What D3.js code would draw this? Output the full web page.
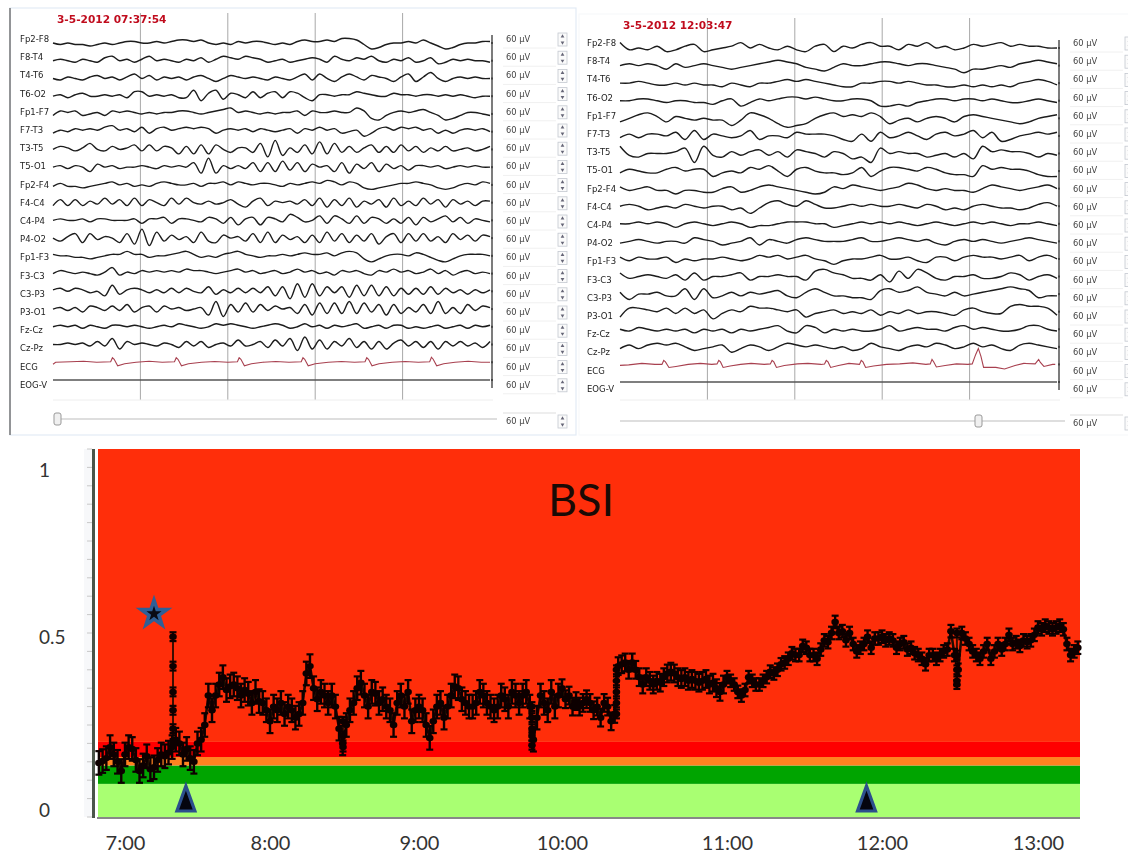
<!DOCTYPE html>
<html><head><meta charset="utf-8">
<script src="https://cdn.jsdelivr.net/npm/d3@7"></script>
<style>html,body{margin:0;padding:0;background:#fff}svg{display:block}</style>
</head><body><svg id="c" width="1128" height="854"></svg>
<script>
const channels=["Fp2-F8","F8-T4","T4-T6","T6-O2","Fp1-F7","F7-T3","T3-T5","T5-O1","Fp2-F4","F4-C4","C4-P4","P4-O2","Fp1-F3","F3-C3","C3-P3","P3-O1","Fz-Cz","Cz-Pz","ECG","EOG-V"];
const gainLabel="60 µV";
const titleLeft="3-5-2012 07:37:54";
const titleRight="3-5-2012 12:03:47";

const eegLeft=[
[0,-1,0,-1,-1,-2,-1,0,-1,0,1,1,0,0,1,0,1,2,2,1,2,0,-1,0,-1,1,0,1,1,0,-1,0,-1,1,2,1,1,2,1,3,3,2,-1,-4,-3,-1,0,0,1,0,2,0,-2,-4,-3,-1,0,0,1,1],
[0,1,0,-1,1,0,-1,2,3,0,1,-1,1,3,0,1,0,-1,1,0,2,-1,1,3,2,1,3,2,1,-1,0,1,-1,0,1,2,1,-1,3,1,0,2,1,3,0,-1,1,0,2,-1,0,2,-2,-1,1,0,1,0,0,-1],
[0,-1,1,0,-1,1,2,0,1,-1,1,3,0,2,-1,1,0,1,-1,1,2,0,-2,0,2,1,0,1,0,-1,1,0,-1,1,3,-1,3,0,-2,1,3,1,-1,2,1,0,-2,1,3,-2,1,4,0,-2,0,1,0,1,0,0],
[0,1,-1,1,2,0,0,1,0,1,-1,3,3,0,1,0,1,-1,-1,4,-3,2,4,-2,2,1,-1,3,-1,2,3,-1,3,2,-1,-3,1,1,0,1,1,3,2,1,0,0,2,1,1,0,1,1,0,1,0,1,0,-1,0,0],
[-1,2,1,2,-1,0,1,-1,2,1,2,1,0,1,0,1,1,2,2,1,0,1,2,3,4,1,2,1,0,1,0,1,1,2,-1,2,1,1,2,1,1,4,2,-3,-4,-1,1,2,1,2,3,1,-1,-4,-3,-1,1,1,0,-1],
[-1,1,0,2,1,2,1,3,4,1,2,0,3,-1,2,3,1,2,3,2,3,2,-1,1,2,1,2,0,2,1,0,1,2,-1,2,1,3,1,2,-1,0,1,-3,-1,2,3,1,3,2,3,1,2,-1,1,-1,1,2,1,2,0],
[0,2,1,-1,1,4,0,-1,2,0,1,3,-1,3,-1,2,1,-3,2,-3,3,-3,3,0,-2,1,1,-2,4,-5,6,-4,1,-2,3,-3,5,-3,4,-2,2,-2,1,3,-2,2,-2,3,-1,2,-2,1,-1,2,-1,0,1,-1,0,2],
[0,1,-1,1,0,-3,2,0,1,-1,0,0,1,0,-1,1,0,1,0,3,-4,6,-4,1,-1,1,-1,3,-3,3,-3,4,-2,3,-3,2,0,1,-3,3,-4,2,-1,3,-3,2,-1,1,-2,1,1,0,1,-1,0,1,0,1,0,0],
[-1,1,-1,-1,-2,-1,0,1,2,0,1,-1,0,-1,1,2,1,0,0,1,-1,1,1,2,0,2,1,0,1,1,0,-1,1,0,1,2,1,3,2,0,2,1,-2,-3,-2,-1,0,1,1,2,1,0,-2,-3,-2,0,1,0,2,1],
[-2,2,-2,2,-2,1,-1,3,-1,2,-2,3,-2,2,0,-2,3,-1,3,0,-1,1,-1,0,2,-1,-3,1,3,-2,1,0,1,-1,2,-2,3,-3,2,-2,3,-3,1,-1,2,-3,3,-2,1,-2,3,-1,2,-3,2,-1,1,-2,1,1],
[0,1,0,0,1,-1,1,1,0,0,0,1,-2,1,1,2,-2,1,1,0,-1,2,1,-2,2,-3,1,2,-3,2,1,-1,4,2,-1,0,3,-2,3,1,-2,3,-2,2,1,-2,1,-2,2,-3,2,-1,1,3,-1,2,-2,1,0,-1],
[0,-2,1,3,-3,3,-1,1,0,-3,3,-4,6,-5,4,-2,2,-1,1,-3,4,-2,-3,2,0,1,-2,3,-3,4,-3,2,-1,1,-3,2,-3,4,-2,3,-3,2,-2,3,-4,1,3,-3,3,-2,3,-2,1,-3,3,-1,2,-2,2,1],
[1,0,0,-1,-1,-2,-1,0,1,1,3,1,1,-1,0,0,1,2,3,1,-1,0,-1,1,2,3,1,0,-1,0,0,1,0,1,2,1,1,2,0,2,3,2,-2,-4,-2,0,1,1,0,2,1,-1,-3,-4,-2,0,1,1,1,0],
[0,2,1,0,1,0,-1,1,4,-1,1,0,2,1,2,1,2,1,3,2,2,1,0,1,2,3,1,2,0,1,2,0,1,3,1,2,0,1,-1,2,1,2,0,-1,2,1,3,1,2,0,1,3,0,2,-1,1,2,0,1,0],
[1,2,0,2,1,-1,0,-3,4,-2,1,2,1,-1,1,-1,2,-1,2,0,-1,3,-2,1,-1,2,-1,2,-1,3,-3,3,-5,5,-4,5,-3,3,-1,3,-4,4,-3,4,-3,3,-3,2,-2,2,-2,3,-2,2,-1,1,-2,1,-1,1],
[0,1,-1,1,-2,2,1,-1,2,-1,3,-2,1,2,-2,2,0,1,-1,0,1,-4,5,-5,3,-2,4,-2,3,-1,2,0,1,-3,3,-4,4,-3,4,-3,5,-3,4,-2,3,-4,3,-3,1,-2,3,-3,5,-3,1,-3,3,-1,2,1],
[0,1,0,1,-1,1,0,-1,1,1,0,1,0,-1,0,1,0,2,1,0,-1,0,2,1,2,1,0,-1,0,1,2,1,-1,0,2,0,1,-1,1,0,1,2,-1,0,1,-1,1,1,-1,0,-1,0,1,-1,0,1,-1,1,0,1],
[0,0,1,0,1,-1,2,-1,4,-3,2,0,1,0,-1,1,0,-2,2,-1,2,-2,0,1,-1,3,-1,0,2,-2,3,-1,4,-4,5,-3,3,-3,2,-1,4,-2,2,-3,2,-3,1,3,-1,2,-2,2,-3,2,-1,2,-1,1,-2,2]
];
const eegRight=[
[3,-1,0,-1,1,-2,-1,1,2,-2,-1,0,1,3,0,2,0,-1,1,-1,-2,1,2,-2,1,0,2,3,1,1,-1,2,1,3,0,1,-1,0,2,1,2,3,1,2,1,1,0,0],
[0,1,0,1,0,-2,1,-1,0,1,0,-1,-2,-1,0,1,2,3,2,1,-1,-2,-3,-1,1,0,0,1,2,2,1,0,1,1,0,-1,-2,-4,-2,-2,-1,0,-1,1,2,3,2,1],
[0,0,1,0,-1,-1,0,-1,0,-1,-1,-2,0,-1,-2,0,0,1,2,1,2,1,0,-1,-2,-2,0,0,1,1,0,1,0,-1,-1,-2,-2,-1,-2,-1,-2,-1,-2,0,1,2,1,-1],
[0,0,1,1,0,-1,0,0,-1,-1,-2,0,1,-3,-1,1,0,1,2,2,1,2,1,0,0,1,1,0,-3,-3,-2,-3,-1,0,1,1,0,1,1,0,1,0,-1,-1,0,1,0,-1],
[-2,0,2,3,1,-2,1,0,-1,0,-1,-1,-4,-1,3,2,0,-3,-5,-4,-3,0,2,3,1,2,1,3,1,-3,-1,0,-2,0,1,0,-2,1,2,1,0,-1,-2,-3,-2,0,1,2],
[-1,1,-1,1,1,0,2,-2,3,-2,1,0,-1,0,3,-2,0,0,-1,2,1,1,1,0,-2,-3,1,-3,2,-1,0,2,0,-2,1,2,0,1,3,-1,2,-3,-2,0,1,2,1,2],
[4,-1,-2,0,0,0,1,3,-5,4,-1,-2,1,-1,1,2,-1,1,-2,2,1,0,-2,1,0,-3,-2,-5,3,0,1,0,0,-2,-1,0,-2,0,-3,4,1,2,1,1,0,-2,0,-1],
[-1,1,0,-1,-1,1,2,0,1,1,-3,-1,0,-1,2,1,3,0,-3,1,2,0,-1,-1,-2,-1,2,-3,0,2,2,1,0,2,1,-1,-2,-2,-3,3,1,2,1,1,0,-2,-3,-3],
[1,-1,0,1,-1,-1,-3,-1,-1,-2,-2,0,1,-2,-1,1,2,1,0,-1,-2,-3,-2,1,0,2,1,0,-1,0,1,3,2,0,-1,0,-1,-1,-2,0,2,1,0,-1,0,1,2,0],
[0,1,0,-2,-1,0,-1,1,0,-1,0,0,-2,-1,-4,-1,2,3,1,0,3,1,-1,-1,0,1,0,1,0,0,1,0,-1,1,0,-2,-1,-2,0,1,0,-1,-1,-2,-1,1,2,0],
[0,0,1,0,1,0,-2,0,1,0,-1,0,1,0,-2,-1,-1,0,1,1,1,0,0,-2,-1,0,1,0,1,0,1,0,-1,0,1,0,-1,0,1,0,1,0,-1,0,0,1,0,-1],
[-1,0,1,0,-1,0,0,-1,2,1,0,-2,-1,0,2,-2,1,0,-1,1,2,1,0,0,0,1,2,0,0,1,2,1,0,1,-1,-2,0,1,0,1,0,-1,0,1,2,1,0,-1],
[1,-1,1,0,0,1,-2,0,-1,0,0,1,0,-1,0,2,1,2,0,1,2,0,-1,-3,-1,0,0,1,2,0,0,1,-1,-2,1,1,-1,1,2,1,1,0,1,2,-1,1,2,0],
[2,-1,0,1,0,-1,1,-2,2,-2,0,0,1,2,-2,0,0,1,0,0,-2,3,4,2,1,-1,-1,-2,1,-3,3,-1,4,2,-1,-2,0,0,1,-1,-1,0,2,1,-2,0,1,-1],
[1,-3,0,0,1,-1,-1,3,-3,3,-2,-1,1,-1,1,0,1,2,-1,-2,1,3,1,-1,-1,-2,-2,-3,2,3,1,2,4,1,0,-1,1,-1,0,1,2,3,4,3,2,-2,-1,-1],
[-3,2,2,1,0,2,-1,2,-1,1,-4,-1,1,0,3,2,2,1,0,1,-3,-1,0,1,-1,0,-1,1,-2,0,-1,1,-1,0,0,-1,-2,1,2,0,-1,-1,3,4,3,3,2,-2],
[0,-1,1,0,-1,0,-1,0,-2,0,-1,0,-2,0,-1,0,1,2,-1,-2,2,1,-2,0,-1,0,-1,-1,0,2,-1,0,1,0,0,-1,1,2,0,1,0,-1,-1,0,2,2,0,-1],
[-1,1,-1,1,2,1,2,0,-2,-1,0,1,-3,-1,1,0,-2,0,2,1,0,1,0,-1,0,-2,-1,2,0,-1,-2,0,1,0,2,1,-1,0,2,0,1,-1,-2,1,2,1,0,-1]
];
const ecgLeft=[[0,-2],[.03,0],[.2,.5],[.35,1],[.5,0],[.66,.5],[.68,4.5],[.7,3],[.74,-3.5],[.82,-1.5],[.95,0],[1.1,1],[1.25,0],[1.39,.5],[1.41,4.5],[1.43,3],[1.47,-3.5],[1.55,-1.5],[1.7,0],[1.85,.8],[2,0],[2.11,.5],[2.13,4.5],[2.15,3],[2.19,-3.5],[2.27,-1.5],[2.4,0],[2.55,.8],[2.7,0],[2.84,.5],[2.86,4.5],[2.88,3],[2.92,-3.5],[3,-1.5],[3.15,0],[3.3,.8],[3.45,0],[3.57,.5],[3.59,4.5],[3.61,3],[3.65,-3.5],[3.73,-1.5],[3.88,0],[4.03,.8],[4.18,0],[4.31,.5],[4.33,5],[4.35,3],[4.39,-3.5],[4.47,-1.5],[4.6,0],[4.75,1],[4.9,0],[5,0]];
const ecgRight=[[0,-1],[.1,-.5],[.25,1],[.4,0],[.48,0],[.5,4],[.52,2.5],[.56,-3],[.64,-2],[.78,0],[.92,1],[1.05,0],[1.11,.5],[1.13,4],[1.15,2.5],[1.18,-3],[1.26,-1.5],[1.38,0],[1.5,1],[1.65,0],[1.72,.5],[1.74,4],[1.76,2.5],[1.79,-3],[1.88,-1],[2.03,.5],[2.15,1],[2.3,0],[2.34,.5],[2.36,4],[2.38,2.5],[2.41,-3],[2.5,-1],[2.62,1],[2.74,0],[2.76,4],[2.78,2.5],[2.81,-3],[2.9,-1.5],[3.05,0],[3.2,.5],[3.35,1.5],[3.5,0],[3.55,.5],[3.57,5],[3.59,2.5],[3.62,-2.5],[3.72,-1],[3.85,.5],[3.98,0],[4.03,.5],[4.07,10],[4.1,16],[4.13,8],[4.16,-3],[4.3,-3],[4.4,-4.5],[4.52,-1],[4.62,1],[4.75,.5],[4.79,5],[4.81,2],[4.85,-2],[4.95,0],[4.98,0]];

const hourTicks=[7,8,9,10,11,12,13];
const hourLabels=["7:00","8:00","9:00","10:00","11:00","12:00","13:00"];
const bsiBands=[0,0.09,0.14,0.163,0.204,1];
const bsiBandColors=["#a9ff72","#00a400","#ff8220","#ff0000","#ff2e0a"];

const bsiBefore7=[.147,.152,.16,.19,.17,.15,.125];
const bsiHour7=[.17,.19,.185,.155,.125,.14,.165,.13,.135,.155,.17,.165,.175,.19,.21,.2,.17,.185,.16,.15,.2,.21,.25,.33,.29,.33,.36,.38,.345,.355,.36,.35,.33,.345,.335,.31,.34,.315,.31,.29];
const bsiHour8=[.26,.3,.29,.31,.28,.3,.29,.27,.28,.31,.39,.41,.35,.32,.34,.33,.31,.33,.3,.24,.2,.25,.29,.31,.35,.365,.33,.3,.34,.335,.31,.32,.3,.29,.25,.31,.33,.3,.34,.26,.29];
const bsiHour9=[.3,.29,.25,.215,.26,.3,.31,.27,.3,.33,.355,.35,.32,.31,.3,.3,.31,.34,.33,.31,.3,.29,.3,.33,.32,.3,.34,.33,.31,.33,.34,.3,.21,.27,.33,.31,.29,.34,.3,.33];
const bsiHour10=[.35,.32,.33,.3,.315,.3,.31,.32,.31,.29,.3,.27,.31,.3,.26,.28,.41,.415,.42,.4,.42,.4,.38,.36,.38,.37,.36,.37,.365,.38,.39,.395,.39,.38,.375,.38,.37,.375,.37,.365,.37,.375,.36,.365,.35,.34,.36];
const bsiHour11=[.38,.37,.36,.34,.33,.345,.38,.37,.36,.36,.37,.38,.395,.39,.4,.415,.42,.43,.445,.44,.44,.465,.46,.44,.44,.43,.455,.48,.475,.5,.53,.5,.505,.48,.5,.47,.45,.46,.47,.49,.46,.485,.485];
const bsiHour12=[.49,.48,.485,.48,.46,.47,.475,.455,.46,.445,.44,.43,.415,.44,.44,.43,.44,.45,.455,.505,.44,.4,.5,.485,.47,.45,.44,.43,.45,.47,.43,.45,.47,.455,.47,.495,.47,.475,.465,.48,.475,.48,.495];
const bsiHour13=[.515,.51,.52,.515,.51,.515,.52,.51,.47,.44,.45,.46];
const bsiSegments=[bsiBefore7,bsiHour7,bsiHour8,bsiHour9,bsiHour10,bsiHour11,bsiHour12,bsiHour13];
const bsiStarts=[6.82,7,8,9,10,11,12,13];
const bsiEnds=[7,8,9,10,11,12,13,13.256];
const bsiErrors=[.032,.032,.032,.032,.024,.017,.017,.017];
const columnTimes=[7.331,8.49,9.79,10.33,12.48];
const columnValues=[[.49,.41,.34,.29,.24,.2],[.19,.22,.26],[.3,.27,.24,.22,.195],[.28,.31,.34,.37,.4],[.5,.44,.4,.37,.36]];
const starTime=7.2, starValue=.555;
const triangleTimes=[7.42,11.9];

const svg=d3.select("#c");
const defs=svg.append("defs");
defs.append("filter").attr("id","soft").attr("x","-2%").attr("y","-2%").attr("width","104%").attr("height","104%")
  .append("feGaussianBlur").attr("stdDeviation",0.45);
const upper=svg.append("g").attr("filter","url(#soft)");

function panel(o){
  const g=upper.append("g");
  g.append("rect").attr("x",o.fx).attr("y",o.fy).attr("width",o.fw).attr("height",o.fh).attr("fill","#fff").attr("stroke",o.frame).attr("stroke-width",1.2);
  if(o.dark) g.append("line").attr("x1",o.fx).attr("x2",o.fx).attr("y1",o.fy).attr("y2",o.fy+o.fh).attr("stroke","#555").attr("stroke-width",1.2);
  const sx=d3.scaleLinear().domain([0,5]).range([o.x0,o.x0+437]);
  g.selectAll(".grid").data([1,2,3,4]).join("line")
    .attr("x1",d=>sx(d)).attr("x2",d=>sx(d)).attr("y1",o.gridTop).attr("y2",o.gridBottom).attr("stroke","#a8a8a8").attr("stroke-width",1);
  g.append("line").attr("x1",o.x0).attr("x2",o.x0+440).attr("y1",o.gridBottom).attr("y2",o.gridBottom).attr("stroke","#eee");
  g.append("text").text(o.title).attr("x",o.titleX).attr("y",o.titleY).attr("font-family","DejaVu Sans").attr("font-weight",700).attr("font-size",10.6).attr("fill","#c00a1e");
  const rowLabel=d3.scaleLinear().domain([0,19]).range([o.labelTop,o.labelTop+18.2*19]);
  const rowTrace=d3.scaleLinear().domain([0,19]).range([o.traceTop,o.traceBottom]);
  g.selectAll(".lab").data(channels).join("text").text(d=>d).attr("x",o.labelX).attr("y",(d,i)=>rowLabel(i)+3)
    .attr("font-family","DejaVu Sans").attr("font-size",8.5).attr("fill","#222");
  o.traces.forEach((vals,i)=>{
    const lx=d3.scaleLinear().domain([0,vals.length-1]).range([o.x0,o.x0+437]);
    const ly=d3.scaleLinear().domain([-9,9]).range([rowTrace(i)+9*o.gain,rowTrace(i)-9*o.gain]);
    g.append("path").attr("d",d3.line().x((d,k)=>lx(k)).y(d=>ly(d)).curve(d3.curveCatmullRom.alpha(.5))(vals))
      .attr("fill","none").attr("stroke","#1c1c1c").attr("stroke-width",1.4);
  });
  const ey=d3.scaleLinear().domain([-9,9]).range([rowTrace(18)+9,rowTrace(18)-9]);
  g.append("path").attr("d",d3.line().x(d=>sx(d[0])).y(d=>ey(d[1]))(o.ecg)).attr("fill","none").attr("stroke","#a8404f").attr("stroke-width",1.1);
  g.append("line").attr("x1",o.x0).attr("x2",o.x0+437).attr("y1",rowTrace(19)).attr("y2",rowTrace(19)).attr("stroke","#555").attr("stroke-width",1.4);
  g.append("line").attr("x1",o.x0+439).attr("x2",o.x0+439).attr("y1",rowTrace(0)-8).attr("y2",rowTrace(19)+8).attr("stroke","#444").attr("stroke-width",1.4);
  g.selectAll(".tk").data(d3.range(0,20)).join("rect").attr("x",o.x0+438).attr("width",2).attr("height",2).attr("y",d=>rowTrace(d)-1).attr("fill","#444");
  const gains=g.selectAll(".gain").data(channels).join("g").attr("transform",(d,i)=>`translate(${o.gainX},${rowLabel(i)})`);
  gains.append("text").text(gainLabel).attr("y",3).attr("font-family","DejaVu Sans").attr("font-size",8.3).attr("fill","#444");
  gains.append("line").attr("x1",-3).attr("x2",50).attr("y1",9).attr("y2",9).attr("stroke","#f0f0f0");
  const spin=(s)=>{
    s.append("rect").attr("x",52).attr("y",-6).attr("width",9).attr("height",13).attr("fill","#fbfbfb").attr("stroke","#c4c8d0").attr("stroke-width",.8);
    s.append("path").attr("d",d3.symbol(d3.symbolTriangle,6)()).attr("transform","translate(56.5,-2.5)").attr("fill","#667");
    s.append("path").attr("d",d3.symbol(d3.symbolTriangle,6)()).attr("transform","translate(56.5,3.5) rotate(180)").attr("fill","#667");
  };
  spin(gains);
  g.append("line").attr("x1",o.sliderX0).attr("x2",o.sliderX1).attr("y1",o.sliderY).attr("y2",o.sliderY).attr("stroke","#bdbdbd").attr("stroke-width",1);
  g.append("rect").attr("x",o.handleX-3).attr("y",o.sliderY-6).attr("width",7).attr("height",12).attr("rx",2).attr("fill","#f0f0f0").attr("stroke","#999");
  const gg=g.append("g").attr("transform",`translate(${o.gainX},${o.sliderY+2})`);
  gg.append("text").text(gainLabel).attr("y",3).attr("font-family","DejaVu Sans").attr("font-size",8.3).attr("fill","#444");
  gg.append("line").attr("x1",-3).attr("x2",50).attr("y1",-8).attr("y2",-8).attr("stroke","#ddd");
  spin(gg);
}
panel({fx:10,fy:8,fw:566,fh:427,frame:"#e3ebf5",dark:true,x0:53,gridTop:13,gridBottom:400,title:titleLeft,titleX:57,titleY:23,labelX:20,labelTop:39,traceTop:43,traceBottom:380,traces:eegLeft,ecg:ecgLeft,gainX:506,sliderX0:57,sliderX1:497,sliderY:419,handleX:57,gain:1.5});
panel({fx:579,fy:14,fw:562,fh:421,frame:"#f7f8fb",dark:false,x0:620,gridTop:18,gridBottom:400,title:titleRight,titleX:623,titleY:29,labelX:587,labelTop:43,traceTop:48,traceBottom:382,traces:eegRight,ecg:ecgRight,gainX:1073,sliderX0:620,sliderX1:1065,sliderY:421,handleX:978,gain:1.8});

// BSI chart
const plotL=98,plotR=1080,plotT=449,plotB=817;
const x=d3.scaleLinear().domain([6.814,...hourTicks,13.27]).range([plotL,125,270,419,562,727,882,1038,plotR]);
const y=d3.scaleLinear().domain([0,1]).range([plotB,plotT]);
const yLabel=d3.scaleLinear().domain([0,.5,1]).range([810,637,470]);
const b=svg.append("g");
b.append("rect").attr("x",84).attr("y",plotT).attr("width",10).attr("height",plotB-plotT).attr("fill","#f7f8fa");
b.selectAll(".band").data(bsiBandColors).join("rect")
  .attr("x",plotL).attr("width",plotR-plotL)
  .attr("y",(d,i)=>y(bsiBands[i+1])).attr("height",(d,i)=>y(bsiBands[i])-y(bsiBands[i+1])).attr("fill",d=>d);
b.append("line").attr("x1",93.5).attr("x2",93.5).attr("y1",plotT).attr("y2",plotB+1).attr("stroke","#4a554a").attr("stroke-width",3);
b.selectAll(".rt").data(d3.range(21)).join("line").attr("x1",87).attr("x2",92).attr("y1",d=>y(d*.05)).attr("y2",d=>y(d*.05)).attr("stroke","#c8c8c8");
b.append("line").attr("x1",plotL-1).attr("x2",plotR).attr("y1",plotB+1).attr("y2",plotB+1).attr("stroke","#888").attr("stroke-width",2);

const tAxis=d3.axisBottom(x).tickValues(hourTicks).tickFormat((d,i)=>hourLabels[i]).tickSize(0);
b.append("g").attr("transform","translate(0,833)").call(tAxis)
  .call(s=>s.select(".domain").remove())
  .call(s=>s.selectAll("text").attr("font-family","Lato").attr("font-size",20).attr("fill","#333"));
const vAxis=d3.axisLeft(yLabel).tickValues([0,.5,1]).tickFormat(d=>d).tickSize(0);
b.append("g").attr("transform","translate(39,0)").call(vAxis)
  .call(s=>s.select(".domain").remove())
  .call(s=>s.selectAll("text").attr("x",0).attr("text-anchor","start").attr("font-family","Lato").attr("font-size",19).attr("fill","#333"));
b.append("text").text("BSI").attr("x",581).attr("y",516).attr("text-anchor","middle").attr("font-family","Lato").attr("font-size",45).attr("fill","#1a0a05");

const pts=[];
bsiSegments.forEach((seg,s)=>seg.forEach((v,i)=>pts.push({t:bsiStarts[s]+(bsiEnds[s]-bsiStarts[s])*i/(s==7?seg.length-1:seg.length),v,e:bsiErrors[s]})));
const pg=b.append("g").attr("filter","url(#soft)");
pg.append("path").attr("d",d3.line().x(d=>x(d.t)).y(d=>y(d.v))(pts)).attr("fill","none").attr("stroke","#1a0800").attr("stroke-width",2.5);
const colPts=[];
columnTimes.forEach((t,i)=>{
  pg.append("line").attr("x1",x(t)).attr("x2",x(t)).attr("y1",y(d3.max(columnValues[i])+.012)).attr("y2",y(d3.min(columnValues[i])-.012)).attr("stroke","#3a1000").attr("stroke-width",2);
  columnValues[i].forEach(v=>colPts.push({t,v,e:.012}));
});
const all=pts.concat(colPts);
pg.selectAll(".err").data(all).join("line").attr("x1",d=>x(d.t)).attr("x2",d=>x(d.t)).attr("y1",d=>y(d.v-d.e)).attr("y2",d=>y(d.v+d.e)).attr("stroke","#100500").attr("stroke-width",2.4);
pg.selectAll(".capT").data(all).join("line").attr("x1",d=>x(d.t)-3.5).attr("x2",d=>x(d.t)+3.5).attr("y1",d=>y(d.v+d.e)).attr("y2",d=>y(d.v+d.e)).attr("stroke","#100500").attr("stroke-width",2.2);
pg.selectAll(".capB").data(all).join("line").attr("x1",d=>x(d.t)-3.5).attr("x2",d=>x(d.t)+3.5).attr("y1",d=>y(d.v-d.e)).attr("y2",d=>y(d.v-d.e)).attr("stroke","#100500").attr("stroke-width",2.2);
pg.selectAll(".dot").data(all).join("ellipse").attr("cx",d=>x(d.t)).attr("cy",d=>y(d.v)).attr("rx",3.8).attr("ry",3.2).attr("fill","#0c0400");

const sx0=x(starTime), sy0=y(starValue);
b.append("path").attr("d",d3.symbol(d3.symbolStar,420)()).attr("transform",`translate(${sx0},${sy0+1})`).attr("fill","#2f5f96");
b.append("path").attr("d",d3.symbol(d3.symbolStar,70)()).attr("transform",`translate(${sx0},${sy0+1})`).attr("fill","#0a0a14");
triangleTimes.forEach(t=>{
  const cx=x(t);
  const tri=d3.line()([[cx,786],[cx+9,811],[cx-9,811]])+"Z";
  b.append("path").attr("d",tri).attr("fill","#05050f").attr("stroke","#2c4f8c").attr("stroke-width",3.2).attr("stroke-linejoin","miter");
});
</script></body></html>
